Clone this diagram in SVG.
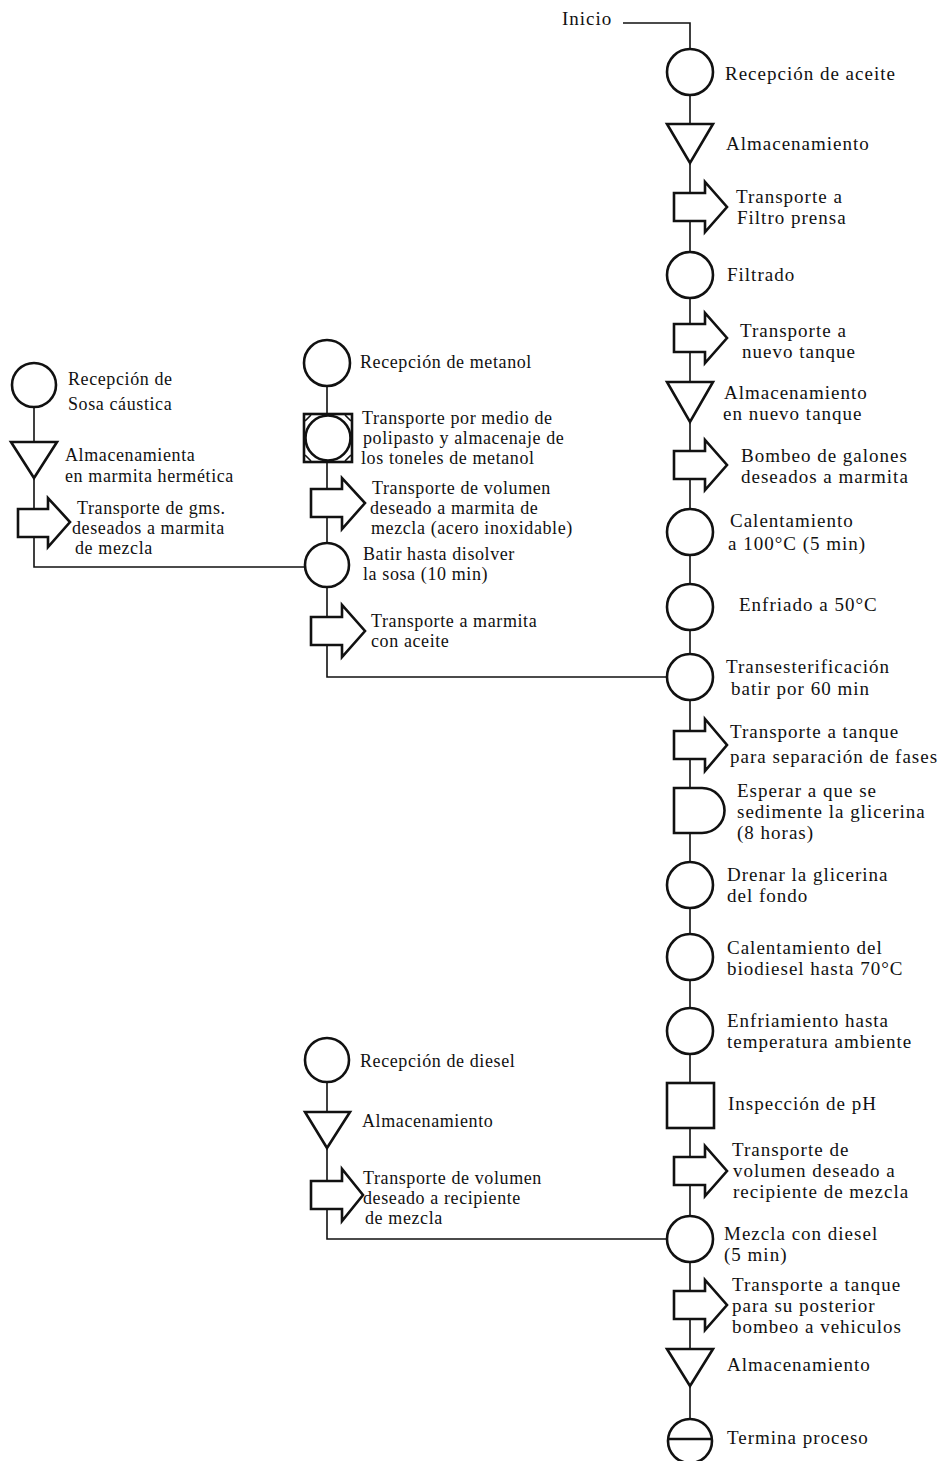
<svg xmlns="http://www.w3.org/2000/svg" width="946" height="1461" viewBox="0 0 946 1461">
<style>
.bg{fill:#fff}
.sh{fill:#fff;stroke:#111;stroke-width:2.6;stroke-linejoin:miter}
.cn{fill:none;stroke:#111;stroke-width:1.6}
.t{font-family:"Liberation Serif","Times New Roman",serif;font-size:19px;letter-spacing:1px;fill:#111}
.s{font-family:"Liberation Serif","Times New Roman",serif;font-size:18px;letter-spacing:0.6px;fill:#111}
</style>
<rect class="bg" x="0" y="0" width="946" height="1461"/>
<g id="connectors">
<path class="cn" d="M623,23 H690 V1419"/>
<path class="cn" d="M34,407 V567 H305"/>
<path class="cn" d="M327,386 V677 H667"/>
<path class="cn" d="M327,1083 V1239 H667"/>
</g>
<g id="inicio"><text class="t" x="562" y="25">Inicio</text></g>
<g id="recepcion-aceite"><circle class="sh" cx="690" cy="72" r="23"/><text class="t" x="725" y="80">Recepción de aceite</text></g>
<g id="almacenamiento-1"><path class="sh" d="M667,124 H713 L690,163 Z"/><text class="t" x="726" y="150">Almacenamiento</text></g>
<g id="transporte-filtro"><path class="sh" d="M674,193 H705 V182 L727,207 L705,232 V221 H674 Z"/><text class="t" x="736" y="203">Transporte a</text><text class="t" x="737" y="224">Filtro prensa</text></g>
<g id="filtrado"><circle class="sh" cx="690" cy="275" r="23"/><text class="t" x="727" y="281">Filtrado</text></g>
<g id="transporte-nuevo-tanque"><path class="sh" d="M674,324 H705 V313 L727,338 L705,363 V352 H674 Z"/><text class="t" x="740" y="337">Transporte a</text><text class="t" x="742" y="358">nuevo tanque</text></g>
<g id="almacenamiento-2"><path class="sh" d="M667,382 H713 L690,422 Z"/><text class="t" x="724" y="399">Almacenamiento</text><text class="t" x="723" y="420">en nuevo tanque</text></g>
<g id="bombeo"><path class="sh" d="M674,451 H705 V440 L727,465 L705,490 V479 H674 Z"/><text class="t" x="741" y="462">Bombeo de galones</text><text class="t" x="741" y="483">deseados a marmita</text></g>
<g id="calentamiento-100"><circle class="sh" cx="690" cy="532" r="23"/><text class="t" x="730" y="527">Calentamiento</text><text class="t" x="728" y="550">a 100°C (5 min)</text></g>
<g id="enfriado-50"><circle class="sh" cx="690" cy="607" r="23"/><text class="t" x="739" y="611">Enfriado a 50°C</text></g>
<g id="transesterificacion"><circle class="sh" cx="690" cy="677" r="23"/><text class="t" x="726" y="673">Transesterificación</text><text class="t" x="731" y="695">batir por 60 min</text></g>
<g id="transporte-separacion"><path class="sh" d="M674,731 H705 V719 L727,745 L705,771 V759 H674 Z"/><text class="t" x="730" y="738">Transporte a tanque</text><text class="t" x="730" y="763">para separación de fases</text></g>
<g id="esperar"><path class="sh" d="M674,788 H702 A22.5,22.5 0 0 1 702,833 H674 Z"/><text class="t" x="737" y="797">Esperar a que se</text><text class="t" x="737" y="818">sedimente la glicerina</text><text class="t" x="737" y="839">(8 horas)</text></g>
<g id="drenar"><circle class="sh" cx="690" cy="885" r="23"/><text class="t" x="727" y="881">Drenar la glicerina</text><text class="t" x="727" y="902">del fondo</text></g>
<g id="calentamiento-70"><circle class="sh" cx="690" cy="957" r="23"/><text class="t" x="727" y="954">Calentamiento del</text><text class="t" x="727" y="975">biodiesel hasta 70°C</text></g>
<g id="enfriamiento"><circle class="sh" cx="690" cy="1031" r="23"/><text class="t" x="727" y="1027">Enfriamiento hasta</text><text class="t" x="727" y="1048">temperatura ambiente</text></g>
<g id="inspeccion"><rect class="sh" x="667" y="1083" width="47" height="45"/><text class="t" x="728" y="1110">Inspección de pH</text></g>
<g id="transporte-recipiente"><path class="sh" d="M674,1157 H705 V1146 L727,1171 L705,1196 V1185 H674 Z"/><text class="t" x="732" y="1156">Transporte de</text><text class="t" x="733" y="1177">volumen deseado a</text><text class="t" x="733" y="1198">recipiente de mezcla</text></g>
<g id="mezcla-diesel"><circle class="sh" cx="690" cy="1239" r="23"/><text class="t" x="724" y="1240">Mezcla con diesel</text><text class="t" x="724" y="1261">(5 min)</text></g>
<g id="transporte-vehiculos"><path class="sh" d="M674,1291 H705 V1280 L727,1305 L705,1330 V1319 H674 Z"/><text class="t" x="732" y="1291">Transporte a tanque</text><text class="t" x="732" y="1312">para su posterior</text><text class="t" x="732" y="1333">bombeo a vehiculos</text></g>
<g id="almacenamiento-final"><path class="sh" d="M667,1349 H713 L690,1386 Z"/><text class="t" x="727" y="1371">Almacenamiento</text></g>
<g id="termina"><circle class="sh" cx="690" cy="1441" r="22"/><line class="sh" x1="668" y1="1439" x2="712" y2="1439"/><text class="t" x="727" y="1444">Termina proceso</text></g>
<g id="recepcion-sosa"><circle class="sh" cx="34" cy="385" r="22"/><text class="s" x="68" y="385">Recepción de</text><text class="s" x="68" y="410">Sosa cáustica</text></g>
<g id="almacenamiento-sosa"><path class="sh" d="M11,442 H57 L34,478 Z"/><text class="s" x="65" y="461">Almacenamienta</text><text class="s" x="65" y="482">en marmita hermética</text></g>
<g id="transporte-gms"><path class="sh" d="M18,509 H48 V498 L70,522 L48,547 V537 H18 Z"/><text class="s" x="77" y="514">Transporte de gms.</text><text class="s" x="72" y="534">deseados a marmita</text><text class="s" x="75" y="554">de mezcla</text></g>
<g id="recepcion-metanol"><circle class="sh" cx="327" cy="363" r="23"/><text class="s" x="360" y="368">Recepción de metanol</text></g>
<g id="polipasto"><rect class="sh" x="304" y="414" width="48" height="48"/><circle class="sh" cx="328" cy="438" r="22.5"/><path class="cn" stroke-width="2" d="M305,421 L311,415 M345,415 L351,421 M305,455 L311,461 M345,461 L351,455"/><text class="s" x="362" y="424">Transporte por medio de</text><text class="s" x="363" y="444">polipasto y almacenaje de</text><text class="s" x="361" y="464">los toneles de metanol</text></g>
<g id="transporte-volumen-metanol"><path class="sh" d="M311,489 H342 V478 L365,503 L342,529 V517 H311 Z"/><text class="s" x="372" y="494">Transporte de volumen</text><text class="s" x="370" y="514">deseado a marmita de</text><text class="s" x="371" y="534">mezcla (acero inoxidable)</text></g>
<g id="batir"><circle class="sh" cx="327" cy="565" r="22"/><text class="s" x="363" y="560">Batir hasta disolver</text><text class="s" x="363" y="580">la sosa (10 min)</text></g>
<g id="transporte-marmita-aceite"><path class="sh" d="M311,617 H342 V605 L365,631 L342,657 V645 H311 Z"/><text class="s" x="371" y="627">Transporte a marmita</text><text class="s" x="371" y="647">con aceite</text></g>
<g id="recepcion-diesel"><circle class="sh" cx="327" cy="1060" r="22"/><text class="s" x="360" y="1067">Recepción de diesel</text></g>
<g id="almacenamiento-diesel"><path class="sh" d="M305,1112 H350 L327,1148 Z"/><text class="s" x="362" y="1127">Almacenamiento</text></g>
<g id="transporte-diesel"><path class="sh" d="M311,1181 H342 V1169 L363,1195 L342,1221 V1209 H311 Z"/><text class="s" x="363" y="1184">Transporte de volumen</text><text class="s" x="363" y="1204">deseado a recipiente</text><text class="s" x="365" y="1224">de mezcla</text></g>
</svg>
